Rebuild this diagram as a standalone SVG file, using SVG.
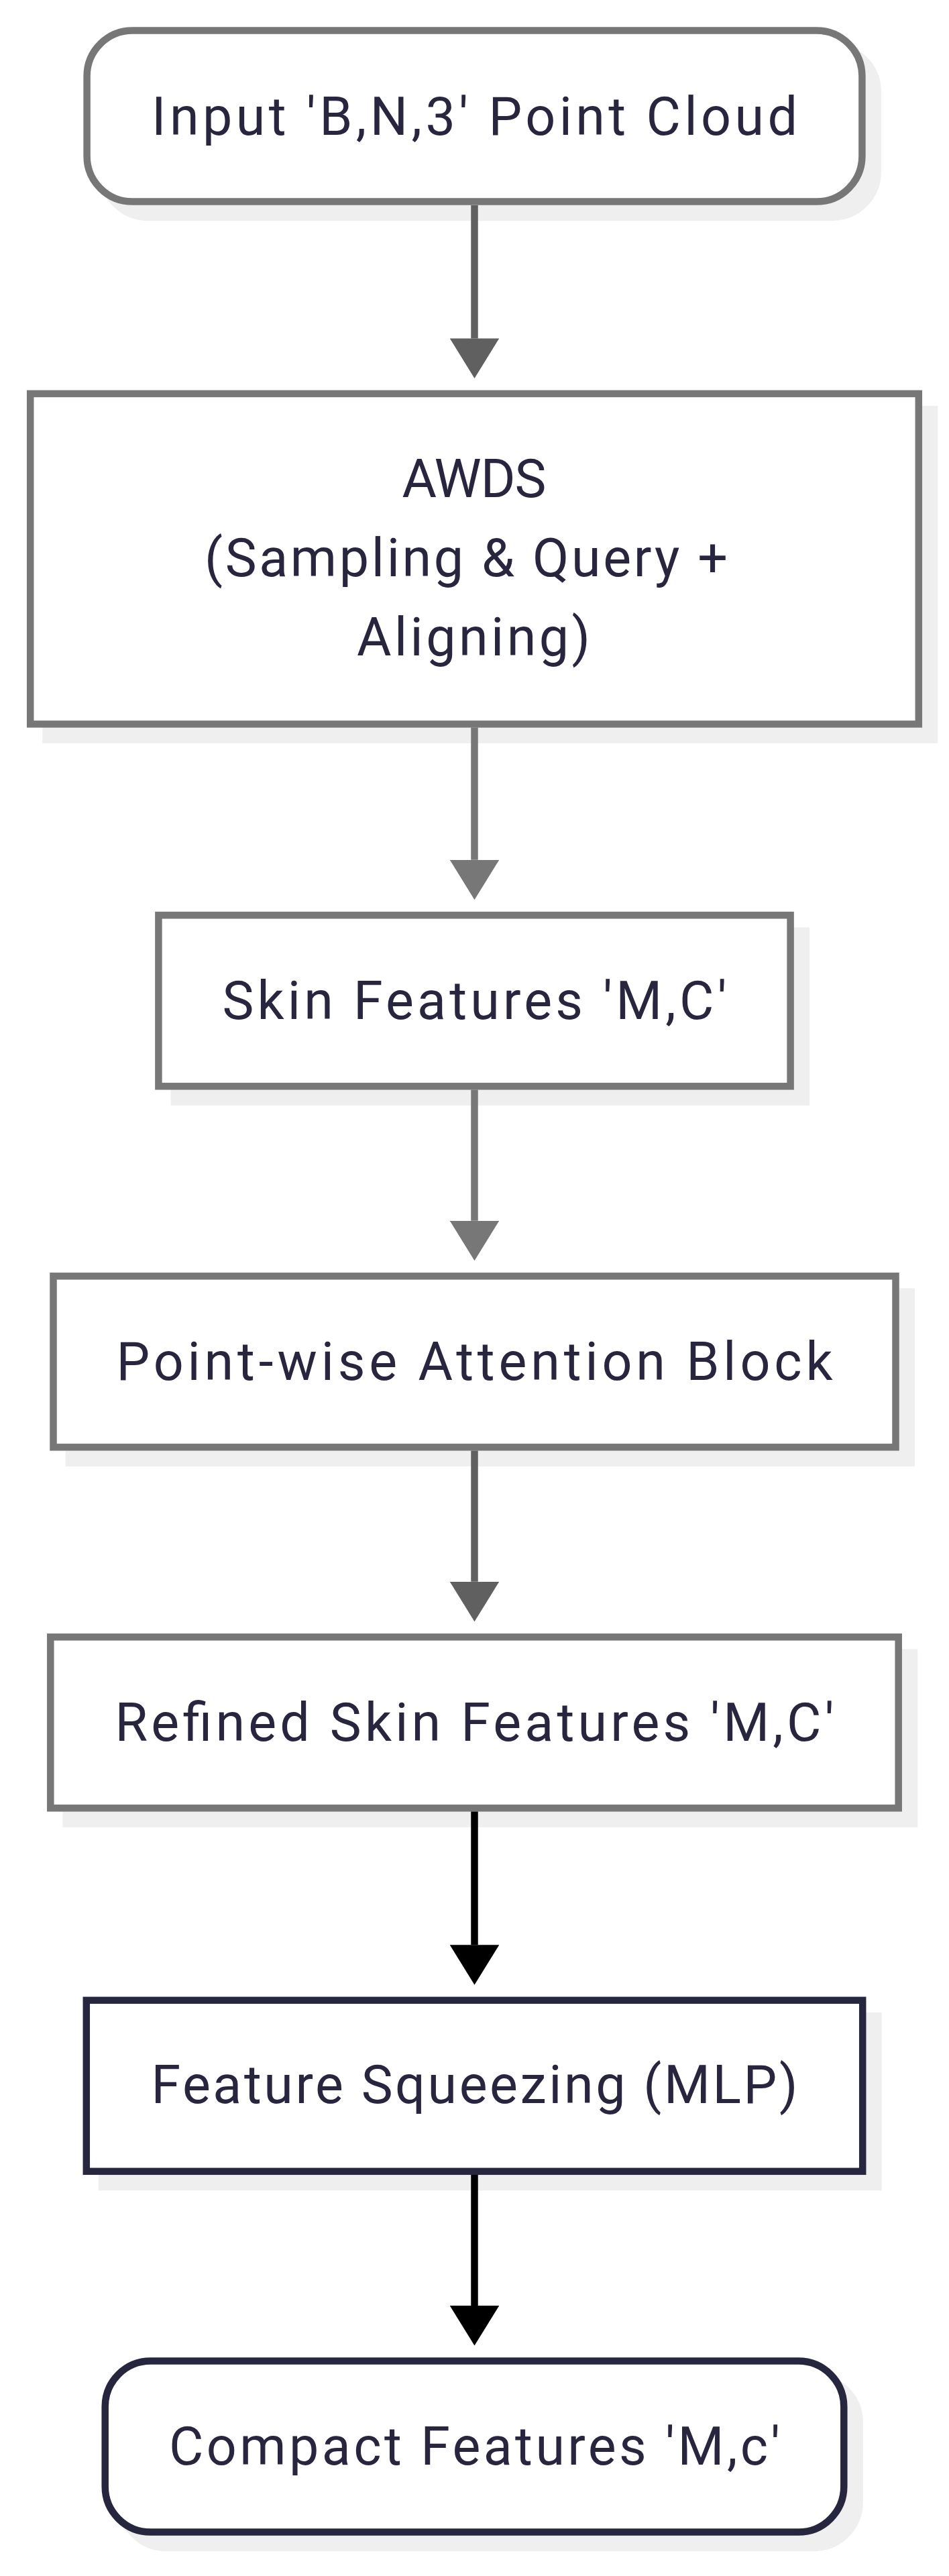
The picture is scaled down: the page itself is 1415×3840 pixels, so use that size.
<svg xmlns="http://www.w3.org/2000/svg" width="1415" height="3840" viewBox="0 0 1415 3840">
<style>
.bg{fill:#ffffff}
.shadow{fill:#efefef;stroke:#efefef;stroke-width:10.5}
.box{fill:#ffffff;stroke:#777777;stroke-width:10.5}
.dark{fill:#ffffff;stroke:#27263f;stroke-width:10.5}
.lbl{font-family:Roboto,"Liberation Sans",sans-serif;font-size:79px;fill:#28253e}
.c1{stroke:#606060;stroke-width:10.5;fill:none}
.c2{stroke:#777777;stroke-width:10.5;fill:none}
.c3{stroke:#000000;stroke-width:10.5;fill:none}
</style>
<defs>
<marker id="h1" viewBox="0 0 59.5 73.6" refX="0" refY="36.8" markerWidth="59.5" markerHeight="73.6" markerUnits="userSpaceOnUse" orient="auto"><path d="M0,0 L59.5,36.8 L0,73.6 Z" fill="#606060"/></marker>
<marker id="h2" viewBox="0 0 59.5 73.6" refX="0" refY="36.8" markerWidth="59.5" markerHeight="73.6" markerUnits="userSpaceOnUse" orient="auto"><path d="M0,0 L59.5,36.8 L0,73.6 Z" fill="#777777"/></marker>
<marker id="h3" viewBox="0 0 59.5 73.6" refX="0" refY="36.8" markerWidth="59.5" markerHeight="73.6" markerUnits="userSpaceOnUse" orient="auto"><path d="M0,0 L59.5,36.8 L0,73.6 Z" fill="#000000"/></marker>
</defs>
<rect class="bg" x="0" y="0" width="1415" height="3840"/>
<g id="node-input">
<rect class="shadow" x="152.9" y="68.9" width="1155.8" height="255" rx="68"/>
<rect class="box" x="129.6" y="45.6" width="1155.8" height="255" rx="68"/>
<text class="lbl" x="707.5" y="200.5" text-anchor="middle" textLength="963" lengthAdjust="spacing">Input 'B,N,3' Point Cloud</text>
</g>
<g id="node-awds">
<rect class="shadow" x="68.5" y="610.2" width="1324.6" height="492.5"/>
<rect class="box" x="45.2" y="586.9" width="1324.6" height="492.5"/>
<text class="lbl" x="707" y="740.5" text-anchor="middle" textLength="215" lengthAdjust="spacing">AWDS</text>
<text class="lbl" x="305" y="858.5" textLength="780" lengthAdjust="spacing">(Sampling &amp; Query +</text>
<text class="lbl" x="706" y="976.5" text-anchor="middle" textLength="348" lengthAdjust="spacing">Aligning)</text>
</g>
<g id="node-skin">
<rect class="shadow" x="259.7" y="1387.6" width="942.2" height="255"/>
<rect class="box" x="236.4" y="1364.3" width="942.2" height="255"/>
<text class="lbl" x="707.5" y="1518.8" text-anchor="middle" textLength="752" lengthAdjust="spacing">Skin Features 'M,C'</text>
</g>
<g id="node-pwa">
<rect class="shadow" x="102.8" y="1925.6" width="1256" height="255"/>
<rect class="box" x="79.5" y="1902.3" width="1256" height="255"/>
<text class="lbl" x="707.5" y="2056.8" text-anchor="middle" textLength="1068" lengthAdjust="spacing">Point-wise Attention Block</text>
</g>
<g id="node-refined">
<rect class="shadow" x="98.6" y="2463.6" width="1264.4" height="255"/>
<rect class="box" x="75.3" y="2440.3" width="1264.4" height="255"/>
<text class="lbl" x="707.5" y="2594.8" text-anchor="middle" textLength="1072" lengthAdjust="spacing">Refined Skin Features 'M,C'</text>
</g>
<g id="node-squeeze">
<rect class="shadow" x="152.1" y="3005.1" width="1157.4" height="255"/>
<rect class="dark" x="128.8" y="2981.8" width="1157.4" height="255"/>
<text class="lbl" x="707.5" y="3135" text-anchor="middle" textLength="964" lengthAdjust="spacing">Feature Squeezing (MLP)</text>
</g>
<g id="node-compact">
<rect class="shadow" x="180" y="3542.9" width="1101.6" height="255" rx="68"/>
<rect class="dark" x="156.7" y="3519.6" width="1101.6" height="255" rx="68"/>
<text class="lbl" x="707.5" y="3674.1" text-anchor="middle" textLength="911" lengthAdjust="spacing">Compact Features 'M,c'</text>
</g>
<g id="connectors">
<path class="c1" d="M707.5,305.9 L707.5,504.4" marker-end="url(#h1)"/>
<path class="c2" d="M707.5,1084.6 L707.5,1281.8" marker-end="url(#h2)"/>
<path class="c2" d="M707.5,1624.6 L707.5,1819.8" marker-end="url(#h2)"/>
<path class="c1" d="M707.5,2162.6 L707.5,2357.8" marker-end="url(#h1)"/>
<path class="c3" d="M707.5,2700.6 L707.5,2899.3" marker-end="url(#h3)"/>
<path class="c3" d="M707.5,3242.1 L707.5,3437.1" marker-end="url(#h3)"/>
</g>
</svg>
